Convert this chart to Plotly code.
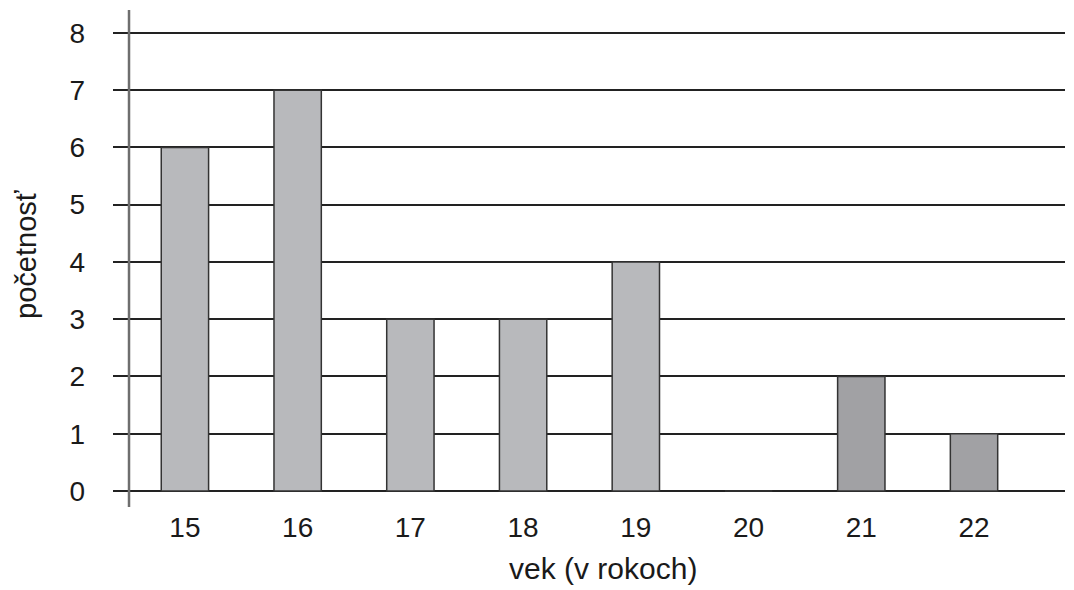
import plotly.graph_objects as go

ages = ["15", "16", "17", "18", "19", "20", "21", "22"]
counts = [6, 7, 3, 3, 4, 0, 2, 1]
bar_colors = ["#b8b9bc", "#b8b9bc", "#b8b9bc", "#b8b9bc", "#b8b9bc", "#b8b9bc", "#a1a1a4", "#a1a1a4"]
y_ticks = [0, 1, 2, 3, 4, 5, 6, 7, 8]
x_title = "vek (v rokoch)"
y_title = "početnosť"

fig = go.Figure()
fig.add_trace(go.Bar(
    x=ages, y=counts,
    marker=dict(color=bar_colors, line=dict(color="#333333", width=1.5)),
    width=0.42,
    showlegend=False,
))

fig.update_layout(
    width=1074, height=590,
    margin=dict(l=105, r=17, t=2, b=91),
    paper_bgcolor="white", plot_bgcolor="white",
    font=dict(family="Liberation Sans, Arial, sans-serif", size=28, color="#1a1a1a"),
    bargap=0.58,
    xaxis=dict(
        type="category",
        range=[-0.638, 7.807],
        showgrid=False, showline=False, zeroline=False,
        ticks="", ticklabelstandoff=1, automargin=False,
        tickfont=dict(size=28),
    ),
    yaxis=dict(
        range=[-0.28, 8.4],
        tickvals=y_ticks,
        showgrid=True, gridcolor="#222222", gridwidth=1.5,
        zeroline=False, showline=False,
        ticks="", ticklabelstandoff=27, automargin=False,
        tickfont=dict(size=28),
    ),
    annotations=[
        dict(text=x_title, xref="paper", yref="paper", x=0.5147, y=-0.1247,
             xanchor="center", yanchor="middle", showarrow=False,
             font=dict(size=30)),
        dict(text=y_title, xref="paper", yref="paper", x=-0.0915, y=0.509,
             xanchor="center", yanchor="middle", showarrow=False, textangle=-90,
             font=dict(size=29)),
    ],
    shapes=[
        dict(type="line", xref="x", yref="paper", x0=-0.496, x1=-0.496, y0=0, y1=1,
             line=dict(color="#6e6e6e", width=2.5), layer="above"),
    ],
)

fig.write_html("out.html")
